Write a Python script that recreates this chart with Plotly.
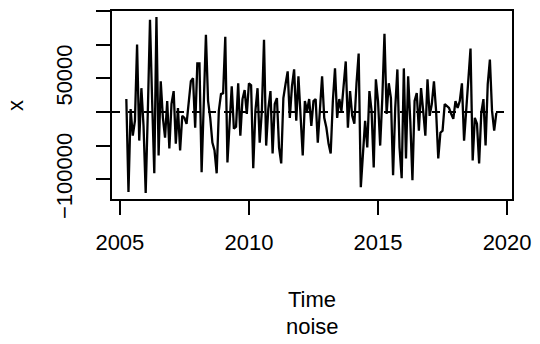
import numpy as np
import plotly.graph_objects as go

# monthly noise series, starting April 2005
start_year = 2005.25
frequency = 12
values = [
    19100, -119100, 4400, -35300, -13200, 100000, -42600, 35300, -20600, -120600,
    1500, 136800, 16200, -91200, 141200, -64700, 45600, -8800, -38200, 16200,
    -54400, 11800, 30900, -47100, 5900, -57400, -5900, -8800, -17600, 20600,
    45600, 50000, -23500, 72100, 72100, -89700, -1500, 114700, 16200, -8800,
    -45600, -57400, -91200, 1500, 26500, 27900, 111800, -75000, -17600, 38200,
    -25000, -22100, 42600, -35300, 19100, 32400, -2900, 42600, 39700, -83800,
    1500, 35300, -45600, 1500, 107400, -50000, 4400, 30900, -61800, 11800,
    20600, -52900, -76500, 20600, 41200, 60300, -8800, 38200, 63200, -13200,
    52900, 1500, -64700, 16200, 1500, 19100, -20600, 16200, 19100, -45600,
    1500, 52900, -8800, -23500, -47100, -61800, 16200, 64700, -8800, 19100,
    1500, 38200, 75000, -23500, 30900, -5900, -17600, 42600, 86800, -111800,
    -67600, -13200, -52900, 30900, 1500, -82400, 48500, 16200, -50000, 20600,
    116200, -2900, 42600, 20600, -94100, 5900, 63200, -52900, -98500, 64700,
    -69100, 52900, -13200, -101500, 16200, 27900, -27900, 35300, 1500, -35300,
    48500, -5900, 11800, 45600, 1500, -69100, -30900, -27900, 11800, 8800,
    5900, -2900, -10300, 16200, 5900, 16200, 42600, -42600, 1500, 48500,
    94100, -72100, -8800, -17600, -76500, -1500, 19100, -50000, 41200, 77900,
    1500, -27900, -1500,
]
time = start_year + np.arange(len(values)) / frequency

x_ticks = [2005, 2010, 2015, 2020]
y_ticks = [-100000, -50000, 0, 50000, 100000, 150000]
y_ticklabels = ["\u2212100000", "", "", "50000", "", ""]
x_label = "Time"
y_label = "x"
sub_label = "noise"

FONT = "Liberation Sans, Arial, sans-serif"
FS = 22

fig = go.Figure()
fig.add_trace(go.Scatter(x=time, y=values, mode="lines",
                         line=dict(color="black", width=2.3), showlegend=False,
                         hoverinfo="skip"))

fig.add_shape(type="line", xref="paper", x0=0, x1=1, yref="y", y0=0, y1=0,
              line=dict(color="black", width=2, dash="8px,8px"), layer="below")

axis_common = dict(showgrid=False, zeroline=False, showline=True, linecolor="black",
                   linewidth=2, mirror=True, ticks="outside", ticklen=14,
                   tickwidth=2, tickcolor="black",
                   tickfont=dict(family=FONT, size=FS, color="black"))

fig.update_layout(
    width=540, height=344,
    margin=dict(l=112, r=22, t=9, b=145, pad=0),
    paper_bgcolor="white", plot_bgcolor="white",
    xaxis=dict(range=[2004.695, 2020.19], tickvals=x_ticks,
               ticktext=[str(v) for v in x_ticks], ticklabelstandoff=9, **axis_common),
    yaxis=dict(range=[-129400, 150000], tickvals=y_ticks, ticktext=y_ticklabels,
               tickangle=-90, ticklabelstandoff=15, **axis_common),
    annotations=[
        dict(text=y_label, xref="paper", yref="paper", x=-0.24, y=0.495,
             xanchor="center", yanchor="middle", textangle=-90, showarrow=False,
             font=dict(family=FONT, size=FS, color="black")),
        dict(text=x_label, xref="paper", yref="paper", x=0.5, y=-0.535,
             xanchor="center", yanchor="middle", showarrow=False,
             font=dict(family=FONT, size=FS, color="black")),
        dict(text=sub_label, xref="paper", yref="paper", x=0.5, y=-0.68,
             xanchor="center", yanchor="middle", showarrow=False,
             font=dict(family=FONT, size=FS, color="black")),
    ],
)

fig.write_html("out.html")
